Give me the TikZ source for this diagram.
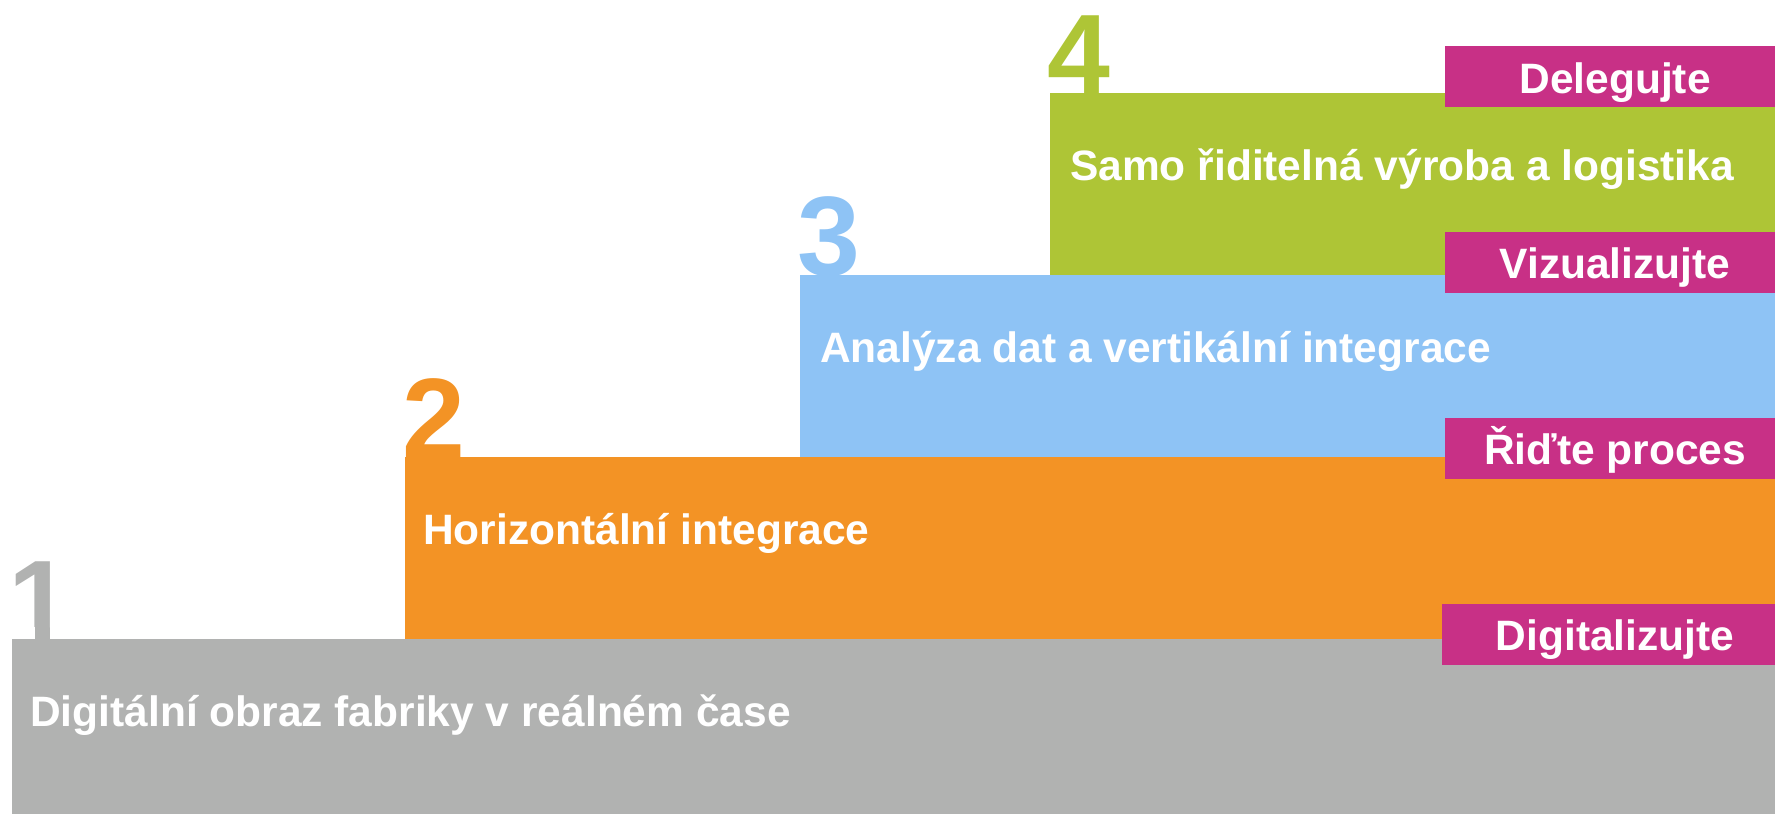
\documentclass[tikz,border=0pt]{standalone}
\usepackage{fontspec}
\setmainfont{Liberation Sans}
\definecolor{cgray}{RGB}{177,178,177}
\definecolor{corange}{RGB}{243,147,37}
\definecolor{cblue}{RGB}{142,195,245}
\definecolor{cgreen}{RGB}{174,197,54}
\definecolor{cmag}{RGB}{200,48,134}
\tikzset{
  steptext/.style={anchor=base west, inner sep=0pt, text=white, font=\bfseries\fontsize{42.5}{50}\selectfont},
  labeltext/.style={anchor=base, inner sep=0pt, text=white, font=\bfseries\fontsize{42.5}{50}\selectfont},
  digit/.style={anchor=base west, inner sep=0pt, font=\bfseries\fontsize{113}{120}\selectfont}
}
\begin{document}
\begin{tikzpicture}[x=1pt,y=-1pt]
\useasboundingbox (0,0) rectangle (1775,814);
% steps
\fill[cgray]   (12,639) rectangle (1775,814);
\fill[corange] (405,457) rectangle (1775,639);
\fill[cblue]   (800,275) rectangle (1775,457);
\fill[cgreen]  (1050,93) rectangle (1775,275);
% digits
\begin{scope}
  \clip (0,500) rectangle (80,626.3) (34.7,626) rectangle (49.9,640);
  \node[digit, text=cgray] (d1) at (8,639) {1};
\end{scope}
\node[digit, text=corange] (d2) at (402,457) {2};
\node[digit, text=cblue]   (d3) at (797,275) {3};
\node[digit, text=cgreen]  (d4) at (1047,93) {4};
% step texts
\node[steptext] (t1) at (30,726) {Digitální obraz fabriky v reálném čase};
\node[steptext] (t2) at (423,544) {Horizontální integrace};
\node[steptext] (t3) at (820,362) {Analýza dat a vertikální integrace};
\node[steptext] (t4) at (1070,180) {Samo řiditelná výroba a logistika};
% magenta labels
\fill[cmag] (1445,46) rectangle (1775,107);
\fill[cmag] (1445,232) rectangle (1775,293);
\fill[cmag] (1445,418) rectangle (1775,479);
\fill[cmag] (1442,604) rectangle (1775,665);
\node[labeltext] (l4) at (1615,93) {Delegujte};
\node[labeltext] (l3) at (1615,278) {Vizualizujte};
\node[labeltext] (l2) at (1615,464) {Řiďte proces};
\node[labeltext] (l1) at (1615,650) {Digitalizujte};
\end{tikzpicture}
\end{document}
